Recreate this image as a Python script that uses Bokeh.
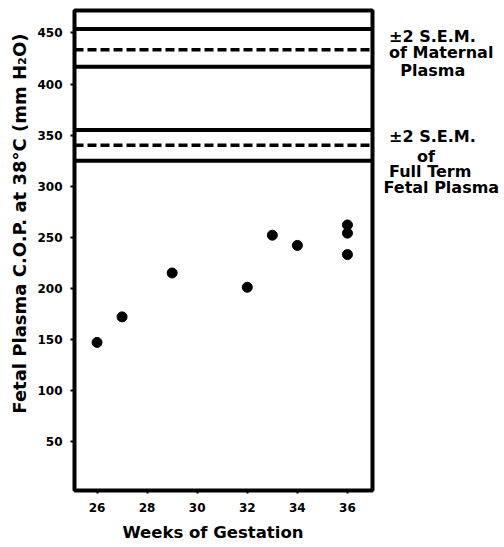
from bokeh.plotting import figure
from bokeh.models import Span, Title, FixedTicker, Range1d, LinearAxis
from bokeh.embed import file_html
from bokeh.resources import INLINE

# data
weeks = [26, 27, 29, 32, 33, 34, 36, 36, 36]
cop = [147, 172, 215, 201, 252, 242, 262, 254, 233]
maternal_sem = [454, 433.5, 417]
fetal_sem = [355, 340, 325]
sem_dash = ["solid", "dashed", "solid"]
x_ticks = [26, 28, 30, 32, 34, 36]
y_ticks = [50, 100, 150, 200, 250, 300, 350, 400, 450]
x_title = "Weeks of Gestation"
y_title = "Fetal Plasma C.O.P. at 38°C (mm H₂O)"
note_lines = ["±2 S.E.M.", "of Maternal", "Plasma",
              "±2 S.E.M.", "of", "Full Term", "Fetal Plasma"]

# layout of the right-hand notes (y position in data units, indent in nbsp)
note_y = [447.0, 430.9, 413.2, 348.6, 329.0, 314.3, 298.2]
note_indent = [1, 1, 3, 1, 6, 1, 0]

FONT = "DejaVu Sans"
NB = "\u00a0"

p = figure(width=504, height=547, output_backend="svg", toolbar_location=None,
           x_range=Range1d(25.1, 37.0), y_range=Range1d(2, 472),
           min_border_left=74, min_border_right=132, min_border_top=10, min_border_bottom=57)
p.background_fill_color = "white"
p.border_fill_color = "white"
p.outline_line_color = "black"
p.outline_line_width = 4
p.xgrid.visible = False
p.ygrid.visible = False

for ax in (p.xaxis, p.yaxis):
    ax.axis_line_color = None
    ax.major_tick_in = 0
    ax.major_tick_line_width = 2
    ax.minor_tick_line_color = None
    ax.major_label_text_font = FONT
    ax.major_label_text_font_style = "bold"
    ax.major_label_text_font_size = "12px"
    ax.major_label_text_color = "black"

p.xaxis.ticker = FixedTicker(ticks=x_ticks)
p.yaxis.ticker = FixedTicker(ticks=y_ticks)
p.xaxis.major_tick_out = 3
p.yaxis.major_tick_out = 4
p.xaxis.major_label_standoff = 9
p.yaxis.major_label_standoff = 8

# right-hand notes as labels of a tick-less right axis
notes = LinearAxis(ticker=FixedTicker(ticks=note_y),
                   major_label_overrides={y: NB * n + t for y, t, n in zip(note_y, note_lines, note_indent)})
notes.axis_line_color = None
notes.major_tick_line_color = None
notes.minor_tick_line_color = None
notes.major_tick_in = 0
notes.major_tick_out = 0
notes.major_label_standoff = 11
notes.major_label_text_font = FONT
notes.major_label_text_font_style = "bold"
notes.major_label_text_font_size = "16px"
notes.major_label_text_color = "black"
p.add_layout(notes, "right")

for vals in (maternal_sem, fetal_sem):
    for v, d in zip(vals, sem_dash):
        if d == "dashed":
            p.add_layout(Span(location=v, dimension="width", line_color="black",
                              line_width=3.5, line_dash="9 4"))
        else:
            p.add_layout(Span(location=v, dimension="width", line_color="black",
                              line_width=4))

p.scatter(weeks, cop, size=10, color="black")

p.add_layout(Title(text=x_title, align="left", offset=48, standoff=12, text_font=FONT,
                   text_font_style="bold", text_font_size="16.5px", text_color="black"), "below")
p.add_layout(Title(text=y_title, align="right", offset=23, standoff=10, text_font=FONT,
                   text_font_style="bold", text_font_size="18px", text_color="black"), "left")

open("out.html", "w").write(file_html(p, INLINE))
